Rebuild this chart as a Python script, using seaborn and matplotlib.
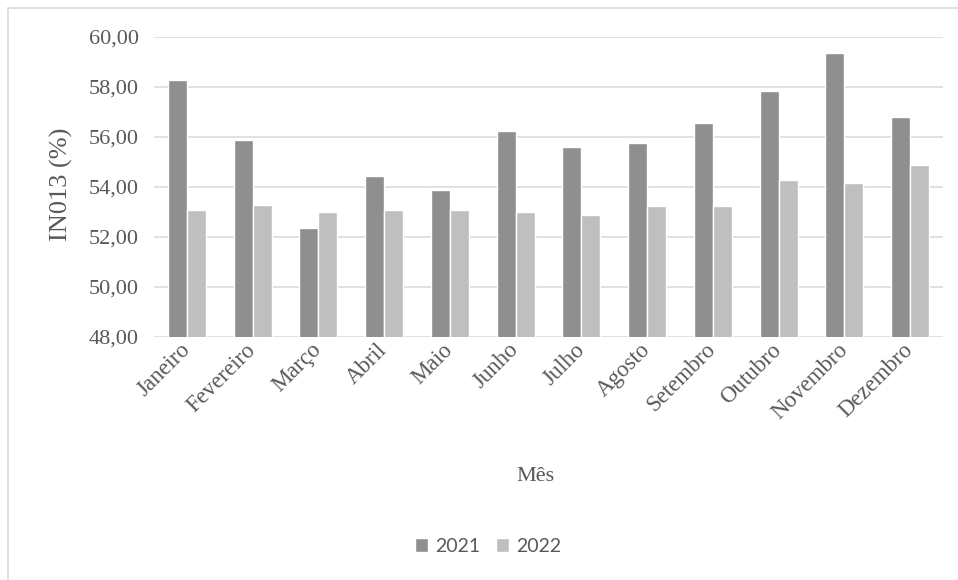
import matplotlib
matplotlib.use("Agg")
import matplotlib.pyplot as plt
import seaborn as sns
import pandas as pd
from matplotlib.patches import Rectangle
from matplotlib.ticker import FuncFormatter

# Monthly IN013 indicator (%) for two years
meses = ["Janeiro", "Fevereiro", "Março", "Abril", "Maio", "Junho",
         "Julho", "Agosto", "Setembro", "Outubro", "Novembro", "Dezembro"]
valores_2021 = [58.30, 55.90, 52.35, 54.45, 53.90, 56.25,
                55.60, 55.75, 56.55, 57.85, 59.35, 56.80]
valores_2022 = [53.10, 53.30, 53.00, 53.10, 53.10, 53.00,
                52.90, 53.25, 53.25, 54.30, 54.15, 54.90]
anos = ["2021", "2022"]
yticks = [48, 50, 52, 54, 56, 58, 60]

df = pd.DataFrame({
    "Mês": meses * 2,
    "Ano": [anos[0]] * len(meses) + [anos[1]] * len(meses),
    "IN013": valores_2021 + valores_2022,
})

sns.set_theme(style="white")
serif = "Liberation Serif"
label_color = "#595959"

fig = plt.figure(figsize=(9.58, 5.8), dpi=100)
ax = fig.add_axes([154 / 958, 1 - 337 / 580, (943 - 154) / 958, 300 / 580])

sns.barplot(data=df, x="Mês", y="IN013", hue="Ano", order=meses,
            hue_order=anos, palette=["#8f8f8f", "#bfbfbf"],
            width=0.58, gap=0, saturation=1, ax=ax, legend=True)

ax.set_ylim(48, 60)
ax.set_yticks(yticks)
ax.yaxis.set_major_formatter(FuncFormatter(lambda v, _: f"{v:.2f}".replace(".", ",")))
ax.set_xlim(-0.5, len(meses) - 0.5)
ax.grid(axis="y", color="#d9d9d9", linewidth=1.1)
ax.set_axisbelow(True)
for s in ax.spines.values():
    s.set_visible(False)
ax.tick_params(axis="both", length=0)
ax.tick_params(axis="y", pad=11, labelsize=16, labelcolor=label_color)
ax.tick_params(axis="x", pad=7, labelsize=16.5, labelcolor=label_color)
for t in ax.get_yticklabels():
    t.set_fontfamily(serif)
for t in ax.get_xticklabels():
    t.set_fontfamily(serif)
    t.set_rotation(45)
    t.set_ha("right")
    t.set_va("center")
    t.set_rotation_mode("anchor")

ax.set_xlabel("Mês", fontsize=16, color=label_color, fontfamily=serif)
ax.set_ylabel("IN013 (%)", fontsize=19, color=label_color, fontfamily=serif)
ax.xaxis.set_label_coords((535 - 154) / (943 - 154), -(467 - 337) / 300)
ax.yaxis.set_label_coords(-(154 - 73) / (943 - 154), (337 - 184) / 300)

handles, labels = ax.get_legend_handles_labels()
ax.get_legend().remove()
fig.legend(handles, labels, loc="center", bbox_to_anchor=(488 / 958, 1 - 546 / 580),
           ncol=2, frameon=False, prop={"family": "Lato", "size": 14},
           labelcolor=label_color, handlelength=0.7, handleheight=0.7,
           handletextpad=0.35, columnspacing=0.8)

# chart frame
fig.patches.append(Rectangle((8 / 958, -0.05), 1.05, 1 - 8 / 580 + 0.05,
                             transform=fig.transFigure, fill=False,
                             edgecolor="#d9d9d9", linewidth=1.2))

# caption above the frame
fig.text(488 / 958, 1 + 5 / 580, "nos anos de 2021 e 2022.", ha="center",
         va="center", fontsize=13, fontweight="bold", fontfamily=serif,
         color="black")

fig.savefig("out.png", dpi=100)
